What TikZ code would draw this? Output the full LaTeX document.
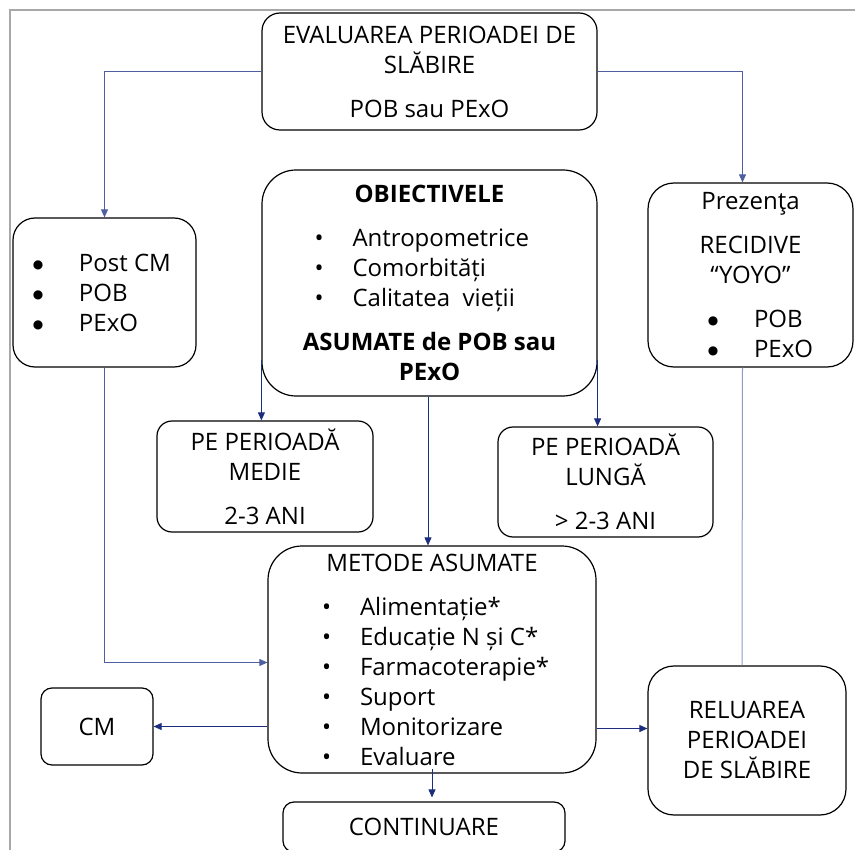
\documentclass[tikz,border=0pt]{standalone}
\usepackage{fontspec}
\setmainfont{Open Sans}
\newfontfamily\symfont{DejaVu Sans}
\usepackage{tikz}
\usetikzlibrary{arrows.meta}
\usetikzlibrary{shapes}

\definecolor{navy}{RGB}{28,45,125}
\definecolor{softnavy}{RGB}{78,94,158}
\definecolor{paleline}{RGB}{140,155,196}
\definecolor{framegray}{RGB}{168,168,168}

\newcommand{\dotitem}[2]{\makebox[#1][l]{\textbullet\hspace{29pt}#2}}
\newcommand{\bigbul}{\makebox[10pt][c]{\raisebox{3pt}{\symfont\fontsize{12}{12}\selectfont ●}}}
\newcommand{\bigitem}[2]{\makebox[#1][l]{\bigbul\hspace{36pt}#2}}

\begin{document}
\begin{tikzpicture}[x=1pt, y=-1pt, >={Triangle[length=8pt, width=7pt]}]
                \tikzstyle{box} = [draw, line width=1.2pt, inner sep=0pt, align=center, font=\fontsize{24}{30}\selectfont]
                \tikzstyle{link} = [->, navy, line width=0.8pt]
                \useasboundingbox (0,0) rectangle (855,850);
                \draw[framegray, line width=2.5pt] (10,850) -- (10,10) -- (855,10);
                        \begin{scope}
                                \path
                                node[box, rounded corners=18pt, minimum width=335pt, minimum height=117pt] (EVAL) at (429.5,71.5)
                                        {EVALUAREA PERIOADEI DE\\ SLĂBIRE\\[14pt] POB sau PExO}
                                node[box, rounded corners=22pt, minimum width=183pt, minimum height=149pt] (POST) at (104.5,292.5)
                                        {\bigitem{143pt}{Post CM}\\ \bigitem{143pt}{POB}\\ \bigitem{143pt}{PExO}}
                                node[box, rounded corners=34pt, minimum width=335pt, minimum height=226pt] (OBJ) at (429.5,283)
                                        {\textbf{OBIECTIVELE}\\[14pt]
                                         \dotitem{230pt}{Antropometrice}\\
                                         \dotitem{230pt}{Comorbități}\\
                                         \dotitem{230pt}{Calitatea~ vieții}\\[14pt]
                                         \textbf{ASUMATE de POB sau}\\ \textbf{PExO}}
                                node[box, rounded corners=26pt, minimum width=205pt, minimum height=184pt] (PREZ) at (750.5,275)
                                        {Prezenţa\\[14pt] RECIDIVE\\ “YOYO”\\[14pt] \bigitem{85pt}{POB}\\ \bigitem{85pt}{PExO}}
                                node[box, rounded corners=15pt, minimum width=216pt, minimum height=111pt] (MEDIE) at (265,476.5)
                                        {PE PERIOADĂ\\ MEDIE\\[14pt] 2-3 ANI}
                                node[box, rounded corners=15pt, minimum width=215pt, minimum height=110pt] (LUNGA) at (605.5,482)
                                        {PE PERIOADĂ\\ LUNGĂ\\[14pt] > 2-3 ANI}
                                node[box, rounded corners=34pt, minimum width=328pt, minimum height=227pt] (METODE) at (432,659.5)
                                        {METODE ASUMATE\\[14pt]
                                         \dotitem{220pt}{Alimentație*}\\
                                         \dotitem{220pt}{Educație N și C*}\\
                                         \dotitem{220pt}{Farmacoterapie*}\\
                                         \dotitem{220pt}{Suport}\\
                                         \dotitem{220pt}{Monitorizare}\\
                                         \dotitem{220pt}{Evaluare}}
                                node[box, rounded corners=11pt, minimum width=112pt, minimum height=77pt] (CM) at (97,726.5) {CM}
                                node[box, rounded corners=26pt, minimum width=198pt, minimum height=149pt] (RELU) at (747,740.5)
                                        {RELUAREA\\ PERIOADEI\\ DE SLĂBIRE}
                                node[box, rounded corners=11pt, minimum width=282pt, minimum height=50pt] (CONT) at (424,827) {CONTINUARE};

                                % Connectors
                                \draw[link, softnavy] (EVAL.west) -| (POST.north);
                                \draw[link, softnavy] (EVAL.east) -| ([xshift=-8pt]PREZ.north);
                                \draw[link] ([yshift=-77pt]OBJ.west) -- (OBJ.west |- MEDIE.north);
                                \draw[link] ([yshift=-77pt]OBJ.east) -- (OBJ.east |- LUNGA.north);
                                \draw[link] ([xshift=-1.5pt]OBJ.south) -- ([xshift=-1.5pt]OBJ.south |- METODE.north);
                                \draw[link, softnavy] (POST.south) |- ([yshift=-3pt]METODE.west);
                                \draw[link] (METODE.west |- CM.east) -- (CM.east);
                                \draw[link] (METODE.east |- RELU.west) ++(0,-12) -- ([yshift=12pt]RELU.west);
                                \draw[paleline, line width=1pt] ([xshift=-8pt]PREZ.south) -- ([xshift=-5pt]RELU.north);
                                \draw[link, shorten >=4pt] ([yshift=5pt]METODE.south) -- (METODE.south |- CONT.north);
                        \end{scope}
                \end{tikzpicture}
\end{document}
